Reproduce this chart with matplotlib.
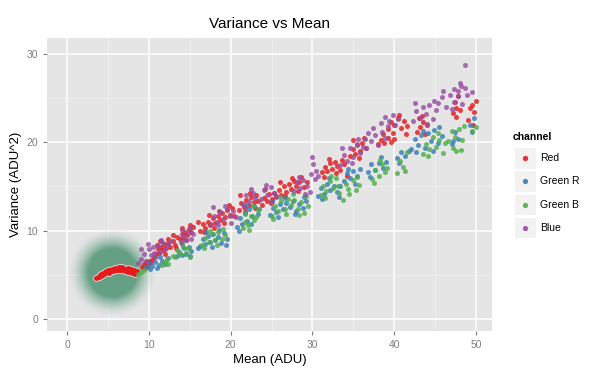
import numpy as np
import matplotlib
matplotlib.use("Agg")
from matplotlib import pyplot as plt
from matplotlib.patches import Rectangle

plt.rcParams['font.family'] = ['Liberation Sans', 'DejaVu Sans']

channels = ["Red", "Green R", "Green B", "Blue"]
colors = ["#E41A1C", "#377EB8", "#4DAF4A", "#984EA3"]

# red channel, low-mean run (the highlighted part) then the rest
red_low_x = [3.6, 3.8, 3.9, 4.0, 4.1, 4.2, 4.3, 4.4, 4.5, 4.6, 4.7, 4.8, 4.9, 5.0, 5.1, 5.2,
             5.3, 5.4, 5.5, 5.6, 5.7, 5.8, 5.9, 6.0, 6.1, 6.2, 6.3, 6.4, 6.5, 6.6, 6.7, 6.8,
             6.9, 7.0, 7.1, 7.2, 7.3, 7.4, 7.5, 7.6, 7.7, 7.8, 7.9, 8.0, 8.1, 8.2, 8.3, 8.5]
red_low_y = [4.6, 4.8, 4.7, 5.0, 4.9, 5.1, 5.0, 5.2, 5.1, 5.3, 5.2, 5.4, 5.3, 5.5, 5.2, 5.6,
             5.4, 5.5, 5.7, 5.4, 5.6, 5.5, 5.8, 5.6, 5.7, 5.5, 5.8, 5.9, 5.6, 5.7, 5.9, 5.5,
             5.8, 5.6, 5.4, 5.7, 5.5, 5.8, 5.3, 5.6, 5.4, 5.7, 5.2, 5.5, 5.3, 5.6, 5.1, 5.4]

red_x = [9.2, 9.4, 9.5, 9.7, 9.8, 10.0, 10.2, 10.4,
         10.9, 11.1, 11.3, 11.5, 11.7, 11.9, 12.1, 12.3, 12.6, 12.9, 13.2, 13.5,
         13.8, 14.0, 14.2, 14.4, 14.7, 14.9, 15.2, 15.4,
         16.3, 16.6, 16.9, 17.2, 17.5, 17.8, 18.1, 18.4, 18.7, 19.0, 19.3, 19.6, 19.9, 20.2,
         21.0, 21.3, 21.6, 21.9, 22.2, 22.5, 22.8, 23.1, 23.4,
         23.8, 24.1, 24.4, 24.7, 25.0, 25.3, 25.6,
         25.9, 26.2, 26.5, 26.8, 27.1, 27.4, 27.7, 28.0, 28.3, 29.0, 29.3,
         31.2, 31.5, 31.8, 32.1, 32.4, 32.7, 33.0, 33.4, 33.8, 34.2,
         34.6, 34.9, 35.2, 35.5, 35.8, 36.1, 36.5,
         38.0, 38.4, 38.8, 39.2, 39.6, 40.0,
         39.2, 39.6, 40.0, 40.4, 40.8, 41.2, 41.6,
         42.8, 43.0, 43.2, 43.5, 43.8, 44.0,
         47.2, 47.4, 47.6, 47.8, 48.0,
         49.0, 49.2, 49.5, 49.8, 50.0,
         10.6, 11.0, 11.4, 12.0, 12.4, 13.0, 13.3, 14.1, 14.5, 15.0, 16.0, 16.8, 17.4,
         18.0, 18.6, 19.2, 19.8, 20.4, 21.2, 21.8, 22.4, 23.0, 24.2, 24.9, 26.0, 26.7,
         27.5, 28.2, 28.6, 31.4, 32.0, 32.9, 33.6, 35.0, 35.7, 36.3, 38.6, 39.8, 40.6,
         41.4, 43.4, 47.5, 49.6]
red_y = [5.9, 6.2, 5.8, 6.4, 6.0, 6.6, 6.3, 6.7,
         7.3, 7.9, 7.5, 8.2, 7.8, 8.5, 8.0, 8.6, 8.2, 8.8, 8.4, 9.3,
         9.0, 9.6, 9.2, 9.9, 9.5, 10.2, 9.8, 10.4,
         10.0, 10.7, 10.3, 11.0, 10.6, 11.4, 10.9, 11.6, 11.2, 12.0, 11.5, 12.3, 11.8, 12.6,
         12.3, 13.1, 12.7, 13.5, 12.9, 13.8, 13.2, 14.0, 13.4,
         12.9, 13.7, 13.3, 14.1, 13.6, 14.3, 13.9,
         14.6, 14.0, 15.0, 14.4, 15.3, 14.7, 15.6, 15.0, 15.5, 14.9, 15.5,
         16.6, 17.2, 16.8, 17.6, 17.0, 17.8, 17.3, 16.9, 17.5, 16.2,
         18.4, 19.2, 18.7, 19.7, 19.0, 19.9, 19.3,
         19.8, 20.3, 19.9, 20.5, 20.0, 20.4,
         21.5, 22.3, 21.9, 22.8, 21.6, 22.4, 21.8,
         21.2, 22.7, 21.7, 22.3, 20.9, 22.0,
         23.3, 24.6, 23.9, 25.2, 23.6,
         22.5, 23.9, 24.2, 23.4, 24.7,
         7.0, 8.4, 8.8, 7.4, 9.0, 9.5, 8.0, 10.3, 8.9, 10.6, 11.0, 9.8, 11.8,
         10.3, 12.2, 10.9, 12.9, 11.6, 14.0, 12.1, 14.3, 12.6, 14.7, 13.1, 15.5, 13.9,
         16.0, 14.5, 16.1, 16.1, 18.1, 16.5, 18.0, 20.2, 18.2, 20.5, 20.9, 21.1, 23.1,
         20.9, 23.0, 22.9, 22.0]

greenr_x = [9.7, 10.0, 10.4, 10.8, 11.2, 11.6, 11.0, 12.3,
            13.4, 13.7, 14.0, 14.3, 14.6, 14.9, 15.2,
            16.3, 16.6, 16.9, 17.2, 17.5, 17.8, 18.1, 18.4, 18.8, 19.2, 19.6,
            20.8, 21.1, 21.4, 21.7, 22.0, 22.3, 22.6, 22.9, 23.3,
            24.8, 25.2, 25.6, 26.0, 26.4, 26.8, 27.2, 27.6, 28.0, 28.4, 28.8, 29.2,
            30.7, 31.0, 31.4, 31.8, 32.2, 32.6, 33.0, 33.4,
            33.8, 34.2, 34.6, 35.0, 35.4, 35.8,
            36.8, 37.2, 37.7, 38.1, 38.6, 39.0,
            40.3, 40.8, 41.3, 41.8,
            42.1, 42.5, 42.9, 43.3, 43.7, 44.1, 44.5, 44.9, 45.3, 45.8,
            47.0, 47.4, 47.8, 49.2, 49.8,
            10.2, 11.4, 12.0, 14.1, 15.0, 16.0, 17.0, 17.7, 18.6, 19.4, 21.0, 21.9, 22.5,
            23.5, 25.0, 25.8, 26.6, 27.9, 29.0, 31.2, 32.0, 33.2, 34.4, 35.2, 37.0, 38.4,
            40.6, 42.7, 43.5, 44.7, 45.5, 47.2, 49.5]
greenr_y = [5.9, 6.3, 6.0, 6.5, 6.1, 6.6, 5.8, 6.9,
            7.1, 7.6, 7.2, 8.0, 7.4, 8.2, 7.7,
            8.3, 9.0, 8.5, 9.4, 8.7, 9.6, 8.9, 9.3, 8.6, 9.7, 9.1,
            10.4, 11.4, 10.8, 12.0, 11.1, 12.5, 11.6, 12.8, 11.9,
            11.8, 12.6, 12.1, 13.0, 12.4, 13.1, 12.7, 13.4, 12.2, 13.0, 12.6, 13.3,
            13.9, 14.8, 14.2, 15.3, 14.6, 15.1, 14.4, 15.0,
            15.6, 16.5, 15.9, 16.8, 16.2, 17.0,
            16.6, 17.5, 16.9, 17.7, 17.1, 17.8,
            18.2, 18.9, 18.4, 19.0,
            19.2, 20.4, 19.7, 20.8, 19.4, 21.0, 20.1, 21.4, 19.9, 20.7,
            19.8, 21.2, 20.4, 22.0, 22.8,
            5.7, 7.0, 6.2, 8.5, 7.1, 8.0, 9.9, 8.2, 10.1, 8.4, 10.0, 12.9, 10.8,
            12.5, 13.4, 11.5, 13.7, 11.9, 13.8, 13.6, 15.9, 13.8, 17.0, 15.3, 16.1, 18.3,
            17.6, 18.9, 21.3, 19.0, 21.7, 20.1, 21.2]

greenb_x = [8.7, 9.1, 11.6, 12.0, 12.4,
            13.0, 13.4, 13.8, 14.2, 14.6, 15.0,
            16.5, 16.9, 17.3, 17.7, 18.1, 18.5, 18.9, 19.3,
            21.5, 21.8, 22.1, 22.5, 22.9, 23.3, 22.7,
            25.0, 25.4, 25.8, 26.2, 26.6, 27.0, 27.4, 27.8, 28.2, 28.6, 29.0, 29.4,
            31.0, 31.3, 31.7, 32.1, 32.5, 32.9, 33.3,
            33.7, 34.1, 34.5, 34.9, 35.3, 35.7,
            37.3, 37.7, 38.1, 38.5, 38.9,
            40.3, 40.7, 41.1, 41.5,
            43.5, 43.9, 44.3, 44.7, 45.1, 45.5, 45.9,
            46.6, 47.0, 47.4, 47.9, 48.3,
            47.5, 48.2, 49.5, 50.0,
            9.4, 12.2, 13.2, 14.0, 14.8, 16.7, 17.5, 18.3, 19.1, 21.7, 22.3, 23.1, 25.2,
            26.0, 26.8, 27.6, 28.4, 29.2, 31.5, 32.3, 33.1, 34.3, 35.5, 37.5, 38.3, 39.1,
            41.3, 44.1, 45.3, 46.2, 47.2, 48.5]
greenb_y = [5.1, 5.3, 6.1, 6.5, 6.2,
            7.1, 7.8, 7.3, 8.2, 7.5, 7.0,
            8.4, 9.2, 8.7, 9.6, 8.9, 9.8, 9.0, 9.5,
            10.3, 11.0, 10.6, 11.7, 11.2, 12.3, 12.8,
            11.7, 12.8, 12.2, 13.3, 12.5, 13.6, 12.9, 13.5, 12.4, 13.2, 12.0, 12.8,
            14.0, 15.1, 14.5, 15.6, 14.8, 15.9, 14.3,
            13.5, 15.3, 14.1, 15.7, 14.6, 15.2,
            15.8, 16.9, 16.2, 17.5, 16.6,
            16.5, 17.9, 17.2, 18.9,
            18.7, 19.8, 19.2, 20.6, 19.5, 20.3, 18.8,
            20.1, 21.3, 20.6, 21.5, 20.3,
            19.0, 19.1, 21.3, 21.7,
            5.6, 6.8, 7.0, 8.6, 8.0, 8.0, 10.0, 8.4, 10.2, 11.9, 10.1, 11.5, 11.3,
            13.8, 11.9, 14.1, 11.8, 13.9, 13.7, 16.2, 15.0, 14.7, 16.1, 15.4, 18.0, 17.1,
            16.7, 18.4, 21.0, 19.9, 19.4, 21.8]

blue_x = [8.7, 9.1, 9.4, 9.7, 10.0, 10.3, 10.5,
          10.8, 11.1, 11.4, 11.7, 12.0, 12.3,
          13.9, 14.2, 14.5, 14.8, 15.1, 15.4,
          17.6, 18.0, 18.3, 18.7, 19.1, 19.5, 19.9, 20.3, 20.7,
          21.5, 21.9, 22.3, 22.7, 23.0,
          23.7, 24.1, 24.5, 24.9, 25.3, 25.6,
          27.7, 28.1, 28.5, 28.9, 29.3, 29.7,
          29.8, 30.1, 30.4, 30.0, 30.7,
          33.4, 33.8, 34.2, 34.6, 35.0, 35.4, 35.8, 36.2,
          36.4, 36.8, 37.2, 37.6, 38.0, 38.5, 38.9,
          38.4, 38.9, 39.4, 39.9, 40.4,
          42.3, 42.7, 43.1, 43.5, 43.9, 44.3, 44.7, 45.1,
          45.4, 45.8, 46.3, 46.8, 47.3, 47.8, 48.3,
          47.3, 47.8, 48.2, 48.6, 48.7, 49.5,
          9.0, 9.9, 10.6, 11.5, 12.6, 14.0, 15.0, 17.9, 18.5, 19.3, 20.1, 21.7, 22.5,
          24.3, 25.1, 28.3, 29.1, 30.3, 33.6, 34.8, 35.6, 36.6, 37.4, 39.2, 40.1, 42.5,
          44.0, 44.9, 46.0, 47.0, 48.0, 48.9]
blue_y = [6.3, 6.8, 7.4, 6.6, 7.9, 7.2, 8.2,
          7.0, 8.3, 7.6, 8.6, 7.9, 8.4,
          8.7, 9.4, 8.9, 9.7, 9.1, 9.6,
          10.8, 11.6, 11.0, 12.1, 11.3, 12.4, 11.7, 12.2, 11.5,
          13.0, 14.0, 13.4, 14.3, 13.7,
          13.6, 14.6, 14.0, 14.9, 14.3, 13.8,
          14.5, 15.5, 14.8, 15.7, 15.0, 14.4,
          16.4, 17.5, 16.8, 18.3, 16.2,
          17.4, 18.6, 17.9, 19.3, 18.3, 19.8, 18.8, 19.5,
          20.4, 21.0, 20.1, 20.8, 19.7, 21.2, 20.5,
          22.2, 22.9, 22.4, 23.1, 22.6,
          22.4, 23.5, 22.8, 24.0, 23.2, 24.2, 22.6, 23.7,
          24.4, 25.1, 24.0, 25.4, 24.6, 25.2, 24.3,
          26.0, 25.8, 26.4, 26.1, 28.7, 25.7,
          7.9, 8.5, 7.5, 8.9, 8.8, 10.1, 10.3, 12.7, 10.6, 12.8, 10.9, 12.6, 14.7,
          15.2, 13.4, 16.1, 14.1, 15.8, 19.3, 17.6, 20.4, 19.4, 21.6, 21.8, 22.0, 24.5,
          22.1, 24.7, 25.8, 23.8, 26.7, 25.3]

series_x = [red_x, greenr_x, greenb_x, blue_x]
series_y = [red_y, greenr_y, greenb_y, blue_y]

fig = plt.figure(figsize=(6.09, 3.75), dpi=100)
ax = fig.add_axes([47 / 609, 1 - 331 / 375, 445 / 609, 293 / 375])
ax.set_facecolor("#E5E5E5")
for s in ax.spines.values():
    s.set_visible(False)

ax.set_xlim(-2.45, 51.95)
ax.set_ylim(-1.36, 31.8)
ax.set_xticks([0, 10, 20, 30, 40, 50])
ax.set_yticks([0, 10, 20, 30])
ax.set_xticks([5, 15, 25, 35, 45], minor=True)
ax.set_yticks([5, 15, 25], minor=True)
ax.grid(True, which="major", color="white", linewidth=1.1)
ax.grid(True, which="minor", color="#F2F2F2", linewidth=0.5)
ax.set_axisbelow(True)
ax.tick_params(which="major", length=3, color="#7F7F7F", labelcolor="#7F7F7F", labelsize=7.5)
ax.tick_params(which="minor", length=0)

# soft green highlight round the low-mean red run
cx, cy = 5.5, 5.2
gx = np.linspace(cx - 48 / 8.18, cx + 48 / 8.18, 240)
gy = np.linspace(cy - 48 / 8.83, cy + 48 / 8.83, 240)
GX, GY = np.meshgrid(gx, gy)
rpx = np.hypot((GX - cx) * 8.18, (GY - cy) * 8.83)
alpha = np.clip((44 - rpx) / 20, 0, 1) ** 1.6 * 0.9
img = np.zeros((240, 240, 4))
img[..., 0], img[..., 1], img[..., 2] = 0.34, 0.6, 0.48
img[..., 3] = alpha
ax.imshow(img, extent=[gx[0], gx[-1], gy[0], gy[-1]], origin="lower", aspect="auto",
          zorder=1, interpolation="bilinear")

ax.scatter(red_low_x, red_low_y, s=26, color="#D0D0D0", linewidths=0, zorder=2)
ax.scatter(red_low_x, red_low_y, s=13, color=colors[0], linewidths=0, zorder=3)
for xs, ys, c in zip(series_x, series_y, colors):
    ax.scatter(xs, ys, s=13, color=c, alpha=0.82, linewidths=0, zorder=3)

ax.set_title("Variance vs Mean", fontsize=11, pad=7)
ax.set_xlabel("Mean (ADU)", fontsize=9.5, labelpad=3)
ax.set_ylabel("Variance (ADU^2)", fontsize=9.5, labelpad=3)

# legend drawn by hand, ggplot style
fig.text(513 / 609, 1 - 137 / 375, "channel", fontsize=7.5, fontweight="bold", va="center")
for i, (name, c) in enumerate(zip(channels, colors)):
    yc = 158 + i * 23.3
    fig.patches.append(Rectangle((514 / 609, 1 - (yc + 10.5) / 375), 22 / 609, 21.5 / 375,
                                 transform=fig.transFigure, facecolor="#F2F2F2",
                                 edgecolor="white", linewidth=0.8))
    fig.add_artist(plt.Line2D([525 / 609], [1 - yc / 375], marker="o", markersize=2.8,
                              color=c, alpha=0.85, linestyle="none",
                              transform=fig.transFigure))
    fig.text(540 / 609, 1 - yc / 375, name, fontsize=7.5, va="center")

fig.savefig("out.png", dpi=100)
